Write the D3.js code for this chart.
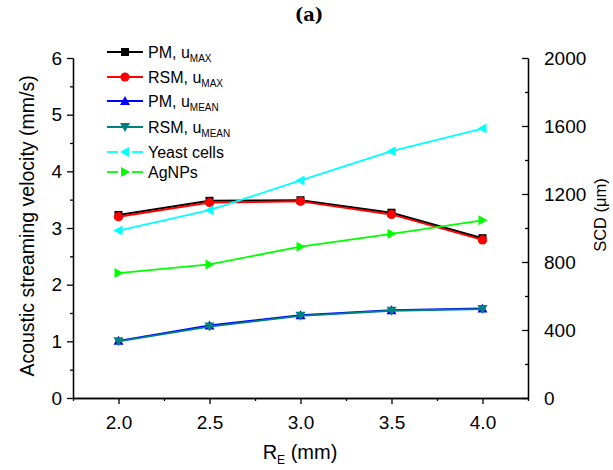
<!DOCTYPE html>
<html><head><meta charset="utf-8">
<script src="https://cdn.jsdelivr.net/npm/d3@7"></script>
<style>body{margin:0;background:#fff}svg{display:block}</style>
</head><body>
<script>
// ---- data ----
const radii = [2.0, 2.5, 3.0, 3.5, 4.0];
const pmMax = [3.23, 3.48, 3.49, 3.27, 2.82];
const rsmMax = [3.20, 3.45, 3.47, 3.24, 2.79];
const pmMean = [1.01, 1.28, 1.46, 1.55, 1.58];
const rsmMean = [1.00, 1.26, 1.45, 1.54, 1.57];
const yeast = [985, 1105, 1280, 1452, 1585];
const agnps = [735, 786, 890, 966, 1045];
const xTicks = [2.0, 2.5, 3.0, 3.5, 4.0];
const yLeftTicks = [0, 1, 2, 3, 4, 5, 6];
const yRightTicks = [0, 400, 800, 1200, 1600, 2000];

const W = 613, H = 470;
const L = 73, R = 528, T = 58, B = 398;
const svg = d3.select("body").append("svg").attr("width", W).attr("height", H);
const font = "Liberation Sans, Arial, sans-serif";

const x = d3.scaleLinear().domain([1.75, 4.25]).range([L, R]);
const yL = d3.scaleLinear().domain([0, 6]).range([B, T]);
const yR = d3.scaleLinear().domain([0, 2000]).range([B, T]);

// axes
const xAxis = svg.append("g").attr("transform", `translate(0,${B})`)
  .call(d3.axisBottom(x).tickValues(xTicks).tickFormat(d3.format(".1f")).tickSize(6).tickSizeOuter(0));
const xMinor = svg.append("g").attr("transform", `translate(0,${B})`)
  .call(d3.axisBottom(x).tickValues([1.75,2.25,2.75,3.25,3.75,4.25]).tickFormat("").tickSize(3).tickSizeOuter(0));
const yAxisL = svg.append("g").attr("transform", `translate(${L},0)`)
  .call(d3.axisLeft(yL).tickValues(yLeftTicks).tickFormat(d3.format("d")).tickSize(6).tickSizeOuter(0));
const yMinorL = svg.append("g").attr("transform", `translate(${L},0)`)
  .call(d3.axisLeft(yL).tickValues([0.5,1.5,2.5,3.5,4.5,5.5]).tickFormat("").tickSize(3).tickSizeOuter(0));
const yAxisR = svg.append("g").attr("transform", `translate(${R},0)`)
  .call(d3.axisRight(yR).tickValues(yRightTicks).tickFormat(d3.format("d")).tickSize(-6).tickPadding(16).tickSizeOuter(0));
const yMinorR = svg.append("g").attr("transform", `translate(${R},0)`)
  .call(d3.axisRight(yR).tickValues([200,600,1000,1400,1800]).tickFormat("").tickSize(-3).tickSizeOuter(0));

[xAxis, xMinor, yAxisL, yMinorL, yAxisR, yMinorR].forEach(g => {
  g.selectAll("path.domain").attr("stroke", "#000").attr("stroke-width", 1.3);
  g.selectAll("line").attr("stroke", "#000").attr("stroke-width", 1.3);
  g.selectAll("text").attr("font-family", font).attr("font-size", 19).attr("fill", "#000");
});
xAxis.selectAll("text").attr("dy", "1.15em");
yAxisL.selectAll("text").attr("dx", "-0.1em");

// title
svg.append("text").attr("x", 309).attr("y", 21).attr("text-anchor", "middle")
  .attr("font-family", "DejaVu Serif, serif").attr("font-weight", "bold").attr("font-size", 18).text("(a)");

// axis labels
svg.append("text").attr("transform", "translate(34,226) rotate(-90)").attr("text-anchor", "middle")
  .attr("font-family", font).attr("font-size", 19.5).text("Acoustic streaming velocity (mm/s)");
svg.append("text").attr("transform", "translate(606,215) rotate(-90)").attr("text-anchor", "middle")
  .attr("font-family", font).attr("font-size", 16.5).text("SCD (μm)");
const xl = svg.append("text").attr("x", 300).attr("y", 459).attr("text-anchor", "middle")
  .attr("font-family", font).attr("font-size", 20);
xl.append("tspan").text("R");
xl.append("tspan").attr("font-size", 12).attr("dy", 5).text("E");
xl.append("tspan").attr("dy", -5).text(" (mm)");

// series
const series = [
  {name: "PM, u", sub: "MAX", vals: pmMax, scale: yL, color: "#000000", sym: "square", w: 2},
  {name: "RSM, u", sub: "MAX", vals: rsmMax, scale: yL, color: "#ff0000", sym: "circle", w: 2},
  {name: "PM, u", sub: "MEAN", vals: pmMean, scale: yL, color: "#0000ff", sym: "up", w: 1.8},
  {name: "RSM, u", sub: "MEAN", vals: rsmMean, scale: yL, color: "#008080", sym: "down", w: 1.8},
  {name: "Yeast cells", sub: "", vals: yeast, scale: yR, color: "#00ffff", sym: "left", w: 1.8, gap: true},
  {name: "AgNPs", sub: "", vals: agnps, scale: yR, color: "#00ff00", sym: "right", w: 1.8, gap: true}
];

function marker(g, sym, cx, cy, color) {
  if (sym === "square") {
    g.append("rect").attr("x", cx - 4).attr("y", cy - 4).attr("width", 8).attr("height", 8).attr("fill", color);
  } else if (sym === "circle") {
    g.append("circle").attr("cx", cx).attr("cy", cy).attr("r", 4.6).attr("fill", color);
  } else {
    const s = 5;
    let pts;
    if (sym === "up") pts = [[cx, cy - s], [cx + s, cy + s * 0.8], [cx - s, cy + s * 0.8]];
    else if (sym === "down") pts = [[cx, cy + s], [cx + s, cy - s * 0.8], [cx - s, cy - s * 0.8]];
    else if (sym === "left") pts = [[cx - s, cy], [cx + s * 0.8, cy - s], [cx + s * 0.8, cy + s]];
    else pts = [[cx + s, cy], [cx - s * 0.8, cy - s], [cx - s * 0.8, cy + s]];
    g.append("polygon").attr("points", pts.map(p => p.join(",")).join(" ")).attr("fill", color);
  }
}

const plot = svg.append("g");
series.forEach(s => {
  const line = d3.line().x((d, i) => x(radii[i])).y(d => s.scale(d));
  plot.append("path").datum(s.vals).attr("d", line).attr("fill", "none")
    .attr("stroke", s.color).attr("stroke-width", s.w).attr("stroke-linejoin", "round");
  s.vals.forEach((v, i) => marker(plot, s.sym, x(radii[i]), s.scale(v), s.color));
});

// legend
const legY = [52, 77, 101, 127, 152, 172];
const leg = svg.append("g");
series.forEach((s, i) => {
  const y = legY[i];
  if (s.gap) {
    leg.append("line").attr("x1", 107).attr("x2", 118).attr("y1", y).attr("y2", y).attr("stroke", s.color).attr("stroke-width", 1.8);
    leg.append("line").attr("x1", 132).attr("x2", 143).attr("y1", y).attr("y2", y).attr("stroke", s.color).attr("stroke-width", 1.8);
  } else {
    leg.append("line").attr("x1", 107).attr("x2", 143).attr("y1", y).attr("y2", y).attr("stroke", s.color).attr("stroke-width", s.w);
  }
  marker(leg, s.sym, 125, y, s.color);
  const t = leg.append("text").attr("x", 148).attr("y", y + 6).attr("font-family", font).attr("font-size", 16);
  t.append("tspan").text(s.name);
  if (s.sub) t.append("tspan").attr("font-size", 10).attr("dy", 4).text(s.sub);
});
</script>
</body></html>
